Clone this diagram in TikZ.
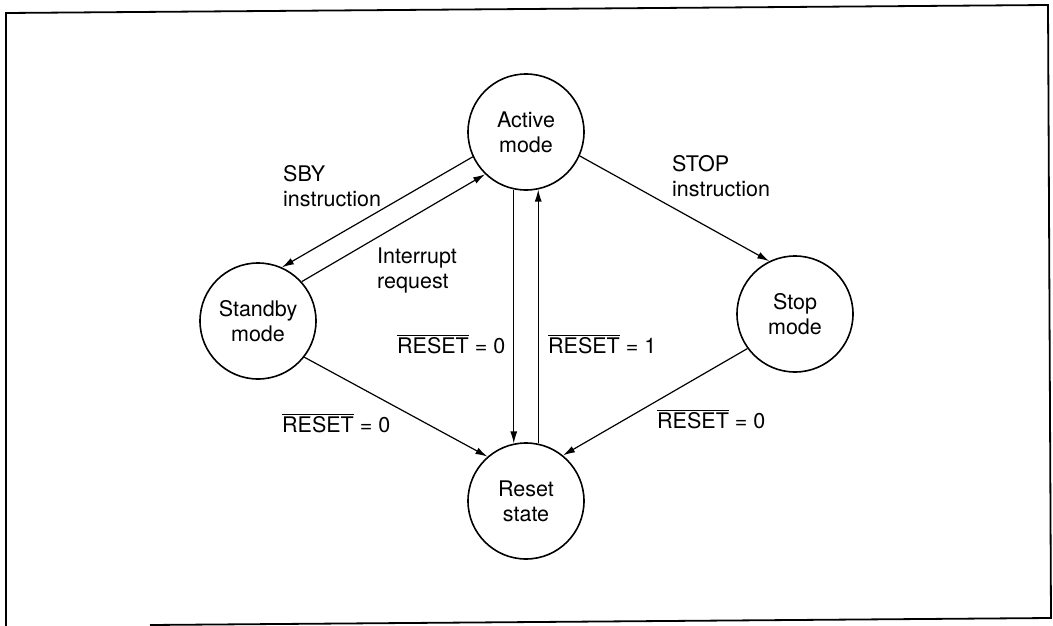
\documentclass[tikz,border=0pt]{standalone}
\usepackage{fontspec}
\setmainfont{TeX Gyre Heros}
\usetikzlibrary{arrows.meta,positioning}
\newcommand{\negsig}[1]{$\overline{\hbox{#1}}$}

\begin{document}
\begin{tikzpicture}[x=1pt,y=-1pt,>={Latex[length=12pt,width=7pt]}]
        % Define the styles
        \tikzstyle{state}=[circle,draw,line width=1.6pt,minimum size=116pt,inner sep=0pt,align=center,font=\fontsize{21.5}{25}\selectfont]
        \tikzstyle{lbl}=[inner sep=0pt,align=left,anchor=north west,font=\fontsize{21.5}{25}\selectfont]
        \tikzstyle{sig}=[inner sep=0pt,anchor=base west,font=\fontsize{21.5}{25}\selectfont]
        \tikzstyle{trans}=[->,line width=1.2pt]

        \useasboundingbox (0,0) rectangle (1053,626);

        % Frame
        \draw[line width=1.8pt] (6,626) -- (6,13) -- (1048,5) -- (1051,618) -- (150,625);

        % States
        \node (act)[state] at (526,132) {Active\\mode};
        \node (sby)[state] at (258,321) {Standby\\mode};
        \node (stp)[state] at (795,314) {Stop\\mode};
        \node (rst)[state] at (526,501) {Reset\\state};

        % Transitions
        \draw[trans] (act.205) -- (sby.66);
        \draw[trans] (sby.42) -- (act.226);
        \draw[trans] (act.336) -- (stp.116);
        \draw[trans] (sby.322) -- (rst.131);
        \draw[trans] (stp.216) -- (rst.51);
        \draw[trans] (act.258) -- (rst.102);
        \draw[trans] (rst.78) -- (act.282);

        % Labels
        \node (sbylbl)[lbl] at (283,165) {SBY\\instruction};
        \node (irqlbl)[lbl] at (377,248) {Interrupt\\request};
        \node (stplbl)[lbl] at (672,155) {STOP\\instruction};
        \node (rstzero)[sig] at (397,353) {\negsig{RESET} = 0};
        \node (rstone)[sig] at (548,353) {\negsig{RESET} = 1};
        \node (sbyrst)[sig] at (282,432) {\negsig{RESET} = 0};
        \node (stprst)[sig] at (657,428) {\negsig{RESET} = 0};
\end{tikzpicture}
\end{document}
